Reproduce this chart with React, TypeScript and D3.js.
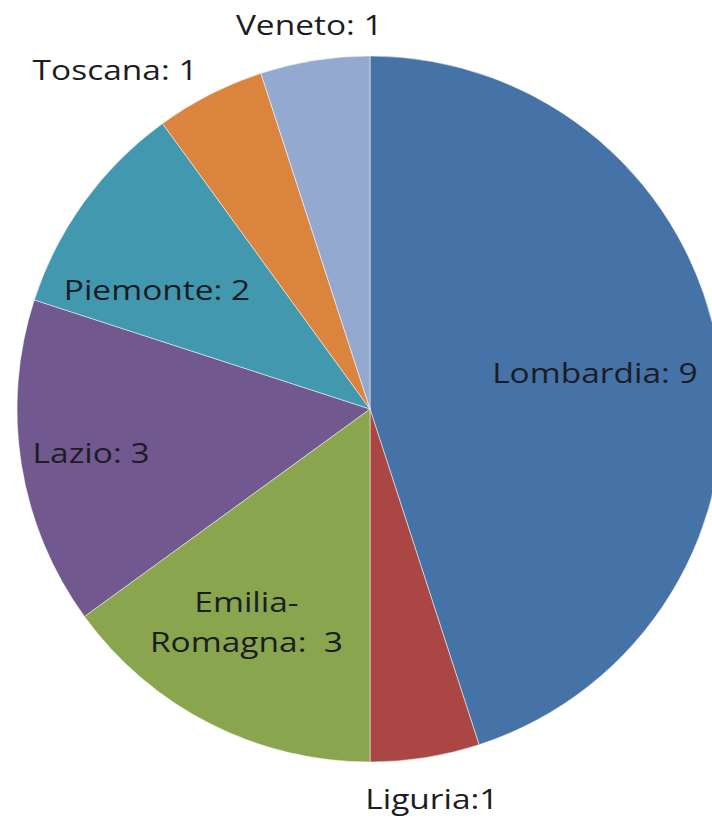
import React, { useRef, useEffect } from "react";
import * as d3 from "d3";

// dati
const regions = ["Lombardia", "Liguria", "Emilia-Romagna", "Lazio", "Piemonte", "Toscana", "Veneto"];
const counts = [9, 1, 3, 3, 2, 1, 1];
const labels = [["Lombardia: 9"], ["Liguria:1"], ["Emilia-", "Romagna:  3"], ["Lazio: 3"], ["Piemonte: 2"], ["Toscana: 1"], ["Veneto: 1"]];

const colors = ["#4572A7", "#AA4643", "#89A54E", "#71588F", "#4198AF", "#DB843D", "#93A9CF"];
// posizione etichette: frazione del raggio, scostamento angolare (gradi)
const labelRadius = [0.645, 1.12, 0.7, 0.8, 0.69, 1.2, 1.1];
const labelShift = [0, 0, 3, 0, -7, -10, 0];

const fontFamily = "'Open Sans', 'Noto Sans', sans-serif";

export default function App() {
  const ref = useRef<SVGSVGElement>(null);

  useEffect(() => {
    const width = 712;
    const height = 819;
    const cx = 370;
    const cy = 409;
    const r = 353;

    const svg = d3.select(ref.current);
    svg.selectAll("*").remove();
    svg.attr("width", width).attr("height", height).style("font-family", fontFamily);

    svg.append("rect").attr("width", width).attr("height", height).attr("fill", "#fff");

    const items = regions.map((name, i) => ({ name, value: counts[i], i }));
    const pie = d3.pie<any>().value(d => d.value).sort(null);
    const arcs = pie(items);
    const arc = d3.arc<any>().innerRadius(0).outerRadius(r);

    const g = svg.append("g").attr("transform", `translate(${cx},${cy})`);

    g.selectAll("path")
      .data(arcs)
      .join("path")
      .attr("d", arc)
      .attr("fill", d => colors[d.data.i])
      .attr("stroke", "rgba(255,255,255,0.5)")
      .attr("stroke-width", 1);

    // etichette (testo un po' allargato, come nell'originale)
    arcs.forEach(d => {
      const i = d.data.i;
      const a = (d.startAngle + d.endAngle) / 2 + (labelShift[i] * Math.PI) / 180;
      const rr = labelRadius[i] * r;
      const x = Math.sin(a) * rr;
      const y = -Math.cos(a) * rr;
      const lines = labels[i];
      const lh = 40;
      const t = g.append("g")
        .attr("transform", `translate(${x},${y}) scale(1.24,1)`)
        .append("text")
        .attr("text-anchor", "middle")
        .attr("font-size", 27)
        .attr("fill", "#1c1c24")
        .attr("xml:space", "preserve")
        .style("white-space", "pre");
      lines.forEach((ln, k) => {
        t.append("tspan")
          .attr("x", 0)
          .attr("y", (k - (lines.length - 1) / 2) * lh)
          .attr("dy", "0.35em")
          .text(ln);
      });
    });
  }, []);

  return <svg ref={ref} style={{ position: "absolute", left: 0, top: 0, display: "block" }}></svg>;
}
